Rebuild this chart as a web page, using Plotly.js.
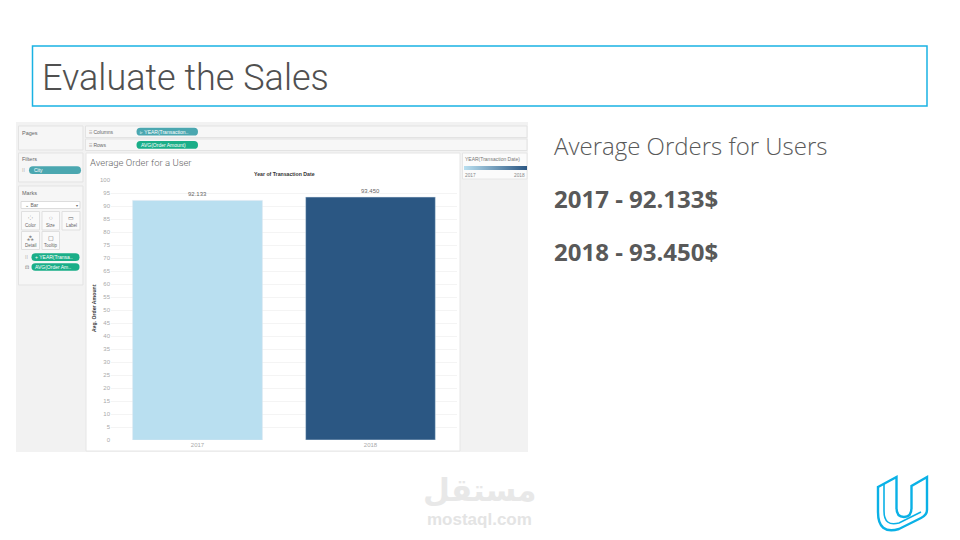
<!DOCTYPE html>
<html>
<head>
<meta charset="utf-8">
<script src="https://cdn.plot.ly/plotly-3.0.1.min.js"></script>
<style>
  html, body { margin: 0; padding: 0; background: #ffffff; }
  #chart { width: 960px; height: 540px; }
</style>
</head>
<body>
<div id="chart"></div>
<script>
// ---- data ----
const years = ['2017', '2018'];
const yearNums = [2017, 2018];
const avgOrderAmount = [92.133, 93.450];
const yTickValues = [0, 5, 10, 15, 20, 25, 30, 35, 40, 45, 50, 55, 60, 65, 70, 75, 80, 85, 90, 95, 100];
const summaryLines = ['2017 - 92.133$', '2018 - 93.450$'];

// ---- helpers: pixel -> paper ----
const W = 960, H = 540;
const X = px => px / W;
const Y = py => 1 - py / H;

function rect(x0, y0, x1, y1, fill, line, lw) {
  return { type: 'rect', xref: 'paper', yref: 'paper', layer: 'below',
    x0: X(x0), x1: X(x1), y0: Y(y1), y1: Y(y0),
    fillcolor: fill, line: { color: line || 'rgba(0,0,0,0)', width: lw === undefined ? 1 : lw } };
}
function pill(x0, y0, x1, y1, fill) {
  const r = (y1 - y0) / 2, ym = (y0 + y1) / 2;
  const p = (x, y) => X(x) + ',' + Y(y);
  const path = 'M' + p(x0 + r, y0) + ' L' + p(x1 - r, y0) + ' Q' + p(x1, y0) + ' ' + p(x1, ym) +
    ' Q' + p(x1, y1) + ' ' + p(x1 - r, y1) + ' L' + p(x0 + r, y1) + ' Q' + p(x0, y1) + ' ' + p(x0, ym) +
    ' Q' + p(x0, y0) + ' ' + p(x0 + r, y0) + ' Z';
  return { type: 'path', xref: 'paper', yref: 'paper', layer: 'below', path: path,
    fillcolor: fill, line: { width: 0 } };
}
function txt(px, py, text, size, color, opts) {
  return Object.assign({ xref: 'paper', yref: 'paper', x: X(px), y: Y(py), text: text,
    showarrow: false, xanchor: 'left', yanchor: 'middle', borderpad: 0,
    font: { family: 'Liberation Sans, Arial, sans-serif', size: size, color: color } }, opts || {});
}

const shapes = [
  // slide title box
  { type: 'rect', xref: 'paper', yref: 'paper', x0: X(32.5), x1: X(927), y0: Y(106), y1: Y(46),
    line: { color: '#1ab2e3', width: 1.5 }, fillcolor: 'rgba(0,0,0,0)' },
  // tableau frame
  rect(16, 122, 528, 452, '#f2f2f2', '#f2f2f2', 0),
  rect(18.5, 126, 83, 150, '#f6f6f6', '#e3e3e3'),
  rect(18.5, 153, 83, 182, '#f6f6f6', '#e3e3e3'),
  rect(18.5, 186, 83, 285, '#f6f6f6', '#e3e3e3'),
  rect(85.5, 126, 527, 137.5, '#f7f7f7', '#e3e3e3'),
  rect(85.5, 139, 527, 150.5, '#f7f7f7', '#e3e3e3'),
  rect(86, 153, 460, 451, '#ffffff', '#e6e6e6'),
  rect(462.5, 153, 527, 179, '#fbfbfb', '#e6e6e6'),
  // marks card controls
  rect(21, 201.5, 80, 208.5, '#ffffff', '#dcdcdc'),
  rect(21.5, 211.5, 39.5, 230, '#fafafa', '#e0e0e0'),
  rect(42, 211.5, 59.5, 230, '#fafafa', '#e0e0e0'),
  rect(62, 211.5, 80, 230, '#fafafa', '#e0e0e0'),
  rect(21.5, 231.5, 39.5, 249.5, '#fafafa', '#e0e0e0'),
  rect(42, 231.5, 59.5, 249.5, '#fafafa', '#e0e0e0'),
  // pills
  pill(136.5, 127.8, 198, 135.6, '#4ba7b0'),
  pill(136.5, 141, 198, 148.8, '#1aae88'),
  pill(29, 166.3, 81, 174, '#4ba7b0'),
  pill(31.5, 253.3, 79.5, 261, '#1aae88'),
  pill(31.5, 263.3, 79.5, 270.8, '#1aae88'),
  // udacity logo
  { type: 'path', xref: 'paper', yref: 'paper',
    path: 'M' + X(878) + ',' + Y(487) + ' L' + X(896.5) + ',' + Y(477) + ' L' + X(896.5) + ',' + Y(508) +
      ' Q' + X(896.5) + ',' + Y(517) + ' ' + X(904) + ',' + Y(517) +
      ' Q' + X(911.5) + ',' + Y(517) + ' ' + X(911.5) + ',' + Y(508) +
      ' L' + X(911.5) + ',' + Y(486) + ' L' + X(927) + ',' + Y(477) + ' L' + X(927) + ',' + Y(510) +
      ' Q' + X(927) + ',' + Y(515) + ' ' + X(921) + ',' + Y(518) +
      ' L' + X(899) + ',' + Y(529) +
      ' Q' + X(878) + ',' + Y(535) + ' ' + X(878) + ',' + Y(512) + ' Z',
    line: { color: '#0ab1e6', width: 2.4 }, fillcolor: 'rgba(0,0,0,0)' },
  { type: 'path', xref: 'paper', yref: 'paper',
    path: 'M' + X(884) + ',' + Y(484) + ' L' + X(884) + ',' + Y(511) +
      ' Q' + X(884) + ',' + Y(527) + ' ' + X(899) + ',' + Y(523) + ' L' + X(921) + ',' + Y(512),
    line: { color: '#0ab1e6', width: 1.6 }, fillcolor: 'rgba(0,0,0,0)' }
];

const gray = '#666666';
const annotations = [
  // slide title
  txt(41, 78, 'Evaluate the Sales', 36, '#555555', { font: { family: 'Roboto Light, Roboto', weight: 300, size: 36, color: '#505050' } }),
  // right-hand summary
  txt(553, 145, 'Average Orders for Users', 24, '#5a5a5a', { font: { family: 'Open Sans', weight: 300, size: 24, color: '#595959' } }),
  txt(553, 198, summaryLines[0], 24, '#595959', { font: { family: 'Open Sans', weight: 700, size: 24, color: '#595959' } }),
  txt(553, 251, summaryLines[1], 24, '#595959', { font: { family: 'Open Sans', weight: 700, size: 24, color: '#595959' } }),
  // tableau UI text
  txt(21, 133, 'Pages', 5.5, gray),
  txt(21, 159, 'Filters', 5.5, gray),
  txt(21, 193, 'Marks', 5.5, gray),
  txt(88, 132, '⁝⁝⁝ Columns', 5, gray),
  txt(88, 144.8, '⁝⁝⁝ Rows', 5, gray),
  txt(139, 131.8, '▹ YEAR(Transaction..', 5, '#ffffff'),
  txt(140, 145, 'AVG(Order Amount)', 5, '#ffffff'),
  txt(21, 170.2, '⁞⁞', 5, gray),
  txt(33, 170.2, 'City', 5, '#ffffff'),
  txt(24, 205, '⌄ Bar', 5, gray),
  txt(77, 205, '▾', 4, gray, { xanchor: 'center' }),
  txt(30.5, 217.5, '⁘', 6, gray, { xanchor: 'center' }),
  txt(50.8, 217.5, '◌', 6, gray, { xanchor: 'center' }),
  txt(71, 217.5, '▭', 6, gray, { xanchor: 'center' }),
  txt(30.5, 225.8, 'Color', 4.5, gray, { xanchor: 'center' }),
  txt(50.8, 225.8, 'Size', 4.5, gray, { xanchor: 'center' }),
  txt(71, 225.8, 'Label', 4.5, gray, { xanchor: 'center' }),
  txt(30.5, 238, '⁂', 6, gray, { xanchor: 'center' }),
  txt(50.8, 238, '▢', 6, gray, { xanchor: 'center' }),
  txt(30.5, 246, 'Detail', 4.5, gray, { xanchor: 'center' }),
  txt(50.8, 246, 'Tooltip', 4.5, gray, { xanchor: 'center' }),
  txt(24, 257.2, '⁞⁞', 5, gray),
  txt(24, 267, '⊡', 5, gray),
  txt(34, 257.2, '+ YEAR(Transa..', 5, '#ffffff'),
  txt(34, 267, 'AVG(Order Am..', 5, '#ffffff'),
  // chart text
  txt(89, 163, 'Average Order for a User', 9.5, '#6a6a6a', { font: { family: 'Roboto', weight: 300, size: 9.5, color: '#666666' } }),
  txt(284, 174, '<b>Year of Transaction Date</b>', 5.2, '#333333', { xanchor: 'center' }),
  txt(94, 308, '<b>Avg. Order Amount</b>', 5.2, '#333333', { xanchor: 'center', textangle: -90 }),
  // legend card
  txt(464, 159, 'YEAR(Transaction Date)', 5, '#777777'),
  txt(464, 175, '2017', 4.8, '#888888'),
  txt(526, 175, '2018', 4.8, '#888888', { xanchor: 'right' }),
  // watermark
  txt(479, 490, 'مستقل', 31, '#e8e8e8', { xanchor: 'center', font: { family: 'DejaVu Sans', weight: 700, size: 31, color: '#e8e8e8' } }),
  txt(479, 519, 'mostaql.com', 17, '#e6e6e6', { xanchor: 'center', font: { family: 'Liberation Sans', weight: 700, size: 17, color: '#e4e4e4' } })
];

const trace = {
  type: 'bar',
  x: years,
  y: avgOrderAmount,
  texttemplate: '%{y:.3f}',
  textposition: 'outside',
  cliponaxis: false,
  textfont: { family: 'Liberation Sans, Arial, sans-serif', size: 6, color: '#666666' },
  marker: {
    color: yearNums,
    cmin: yearNums[0], cmax: yearNums[1],
    colorscale: [[0, '#b9dff0'], [1, '#2b5783']],
    line: { color: 'rgba(220,230,240,0.9)', width: 0.6 },
    showscale: true,
    colorbar: {
      orientation: 'h', x: X(495), xanchor: 'center', y: Y(165.5), yanchor: 'top',
      len: 63, lenmode: 'pixels', thickness: 4, thicknessmode: 'pixels',
      xpad: 0, ypad: 0, outlinewidth: 0, showticklabels: false, ticks: ''
    }
  },
  hoverinfo: 'skip'
};

const layout = {
  width: W, height: H,
  margin: { l: 0, r: 0, t: 0, b: 0 },
  paper_bgcolor: '#ffffff',
  plot_bgcolor: 'rgba(0,0,0,0)',
  showlegend: false,
  bargap: 0.25,
  font: { family: 'Liberation Sans, Arial, sans-serif', size: 6, color: '#aaaaaa' },
  xaxis: {
    domain: [X(111), X(457)], anchor: 'y',
    type: 'category', range: [-0.5, 1.5],
    showgrid: false, zeroline: false, showline: false, ticks: '',
    tickfont: { size: 6, color: '#aaaaaa' }
  },
  yaxis: {
    domain: [Y(440), Y(180)], anchor: 'x',
    range: [0, 100], tickvals: yTickValues,
    showgrid: true, gridcolor: '#f4f4f4', gridwidth: 1,
    zeroline: false, showline: false, ticks: '',
    tickfont: { size: 6, color: '#aaaaaa' }
  },
  shapes: shapes,
  annotations: annotations
};

Plotly.newPlot('chart', [trace], layout, { staticPlot: true, displayModeBar: false });
</script>
</body>
</html>
